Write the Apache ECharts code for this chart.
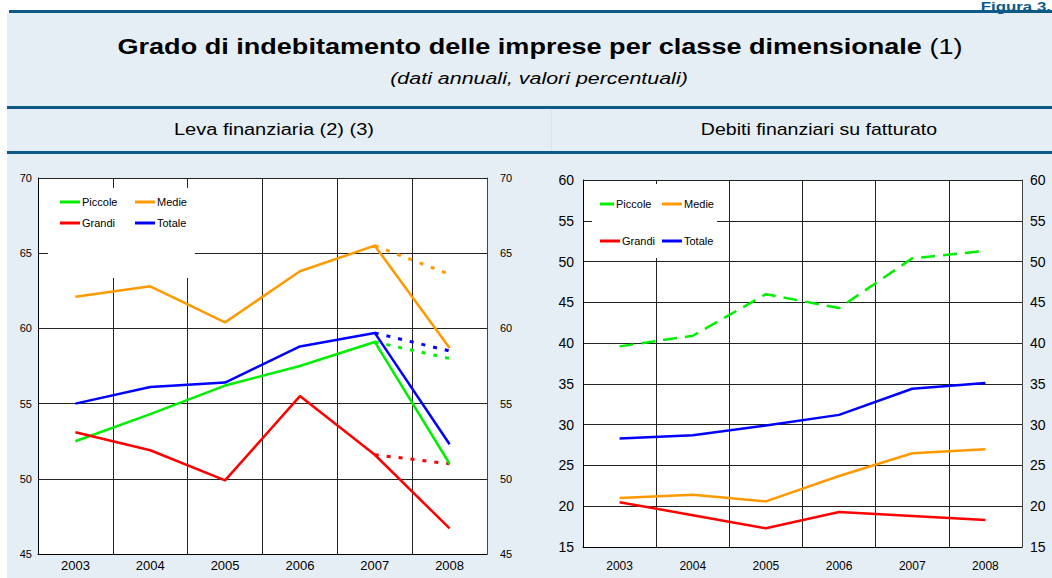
<!DOCTYPE html>
<html>
<head>
<meta charset="utf-8">
<script src="https://cdn.jsdelivr.net/npm/echarts@6/dist/echarts.min.js"></script>
<style>
html,body{margin:0;padding:0;background:#fff;}
#chart{width:1052px;height:578px;}
</style>
</head>
<body>
<div id="chart"></div>
<script>
// ---- data ----
const years = ['2003', '2004', '2005', '2006', '2007', '2008'];

// Leva finanziaria (left panel)
const levaPiccole = [52.5, 54.3, 56.2, 57.5, 59.1, 51.0];
const levaMedie   = [62.1, 62.8, 60.4, 63.8, 65.5, 58.7];
const levaGrandi  = [53.1, 51.9, 49.9, 55.5, 51.6, 46.7];
const levaTotale  = [55.0, 56.1, 56.4, 58.8, 59.7, 52.3];
// alternative 2008 values (dotted)
const levaPiccoleAlt = [null, null, null, null, 59.1, 58.0];
const levaMedieAlt   = [null, null, null, null, 65.5, 63.6];
const levaGrandiAlt  = [null, null, null, null, 51.6, 51.0];
const levaTotaleAlt  = [null, null, null, null, 59.7, 58.5];

// Debiti finanziari su fatturato (right panel)
const debPiccole = [39.6, 40.9, 46.0, 44.3, 50.4, 51.3];
const debMedie   = [21.0, 21.4, 20.6, 23.7, 26.5, 27.0];
const debGrandi  = [20.5, 18.9, 17.3, 19.3, 18.8, 18.3];
const debTotale  = [28.3, 28.7, 29.9, 31.2, 34.4, 35.1];

const leftTicks = [45, 50, 55, 60, 65, 70];
const rightTicks = [15, 20, 25, 30, 35, 40, 45, 50, 55, 60];

const colors = {Piccole: '#00ee00', Medie: '#ff9900', Grandi: '#ff0000', Totale: '#0000ff'};

// ---- styling ----
const NARROW = '"Liberation Sans Narrow", "Arial Narrow", "Liberation Sans", Arial, sans-serif';
const SANS = '"Liberation Sans", Arial, sans-serif';
const BLUE = '#0e5a87';
const BG = '#e6eef5';

const chart = echarts.init(document.getElementById('chart'), null, {renderer: 'svg'});

function yAxis(grid, ticks, pos, fontSize, margin, lineColor) {
  return {
    type: 'value', gridIndex: grid, position: pos,
    min: ticks[0], max: ticks[ticks.length - 1], interval: 5,
    axisLine: {show: true, lineStyle: {color: lineColor, width: 1}},
    axisTick: {show: false},
    axisLabel: {color: '#000', fontSize: fontSize, fontFamily: NARROW, margin: margin},
    splitLine: {show: pos === 'left', lineStyle: {color: '#222', width: 1}}
  };
}
function xAxis(grid, fontSize, margin) {
  return {
    type: 'category', gridIndex: grid, data: years, boundaryGap: true,
    axisLine: {show: true, lineStyle: {color: '#000', width: 1}},
    axisTick: {show: false},
    axisLabel: {color: '#000', fontSize: fontSize, fontFamily: NARROW, margin: margin, interval: 0},
    splitLine: {show: true, interval: 0, lineStyle: {color: '#222', width: 1}}
  };
}
function baseName(name) { return name.trim().split(' ')[0]; }
function line(name, data, xi, yi, dash, width) {
  const c = colors[baseName(name)];
  return {
    name: name, type: 'line', data: data, xAxisIndex: xi, yAxisIndex: yi,
    symbol: 'none', showSymbol: false, color: c,
    lineStyle: {width: width || 2.5, type: dash || 'solid', color: c},
    connectNulls: false, z: 3, silent: true
  };
}
function legendItem(name, left, cy, w) {
  return {
    data: [{name: name, icon: 'rect'}], left: left, top: cy - 7, padding: 0,
    itemWidth: w || 20, itemHeight: 3, itemGap: 0,
    itemStyle: {color: colors[baseName(name)], borderWidth: 0},
    selectedMode: false, z: 10,
    textStyle: {color: '#000', fontSize: 11, fontFamily: NARROW, lineHeight: 14, padding: [0, 0, 0, -3]}
  };
}
function headerText(text, x, y, font, sx, rich) {
  const style = {text: text, fill: '#000', font: font, align: 'center', verticalAlign: 'middle'};
  if (rich) style.rich = rich;
  return {type: 'text', z: 5, x: x, y: y, scaleX: sx, scaleY: 1, style: style};
}

const option = {
  animation: false,
  textStyle: {fontFamily: NARROW},
  graphic: [
    {type: 'rect', z: -10, shape: {x: 7, y: 13, width: 1045, height: 565}, style: {fill: BG}},
    {type: 'rect', z: -10, shape: {x: 9, y: 10, width: 1043, height: 3}, style: {fill: BLUE}},
    {type: 'rect', z: -10, shape: {x: 7, y: 106, width: 1045, height: 3}, style: {fill: BLUE}},
    {type: 'rect', z: -10, shape: {x: 7, y: 151, width: 1045, height: 3}, style: {fill: BLUE}},
    {type: 'rect', z: -10, shape: {x: 551, y: 109, width: 1, height: 42}, style: {fill: '#dbe4ec'}},
    {type: 'rect', z: -9, shape: {x: 38, y: 178, width: 449, height: 376}, style: {fill: '#fff'}},
    {type: 'rect', z: -9, shape: {x: 583, y: 180, width: 439, height: 367}, style: {fill: '#fff'}},
    // legend boxes (white, covering grid lines)
    {type: 'rect', z: 1, shape: {x: 48, y: 188, width: 147, height: 90}, style: {fill: '#fff'}},
    {type: 'rect', z: 1, shape: {x: 592, y: 184, width: 125, height: 74}, style: {fill: '#fff'}},
    {type: 'text', z: 5, x: 1051, y: 13, scaleX: 1.3, style: {text: 'Figura 3.', fill: BLUE, font: 'bold 13px ' + SANS, align: 'right', verticalAlign: 'bottom'}},
    headerText('{b|Grado di indebitamento delle imprese per classe dimensionale} {n|(1)}', 540, 46, 'bold 22px ' + SANS, 1.23,
      {b: {font: 'bold 22px ' + SANS, fill: '#000'}, n: {font: '22px ' + SANS, fill: '#000'}}),
    {type: 'text', z: 5, x: 539, y: 78, scaleX: 1.26, style: {text: '(dati annuali, valori percentuali)', fill: '#000', font: 'italic 17px ' + SANS, align: 'center', verticalAlign: 'middle'}},
    headerText('Leva finanziaria (2) (3)', 274, 130, '16px ' + SANS, 1.25),
    headerText('Debiti finanziari su fatturato', 819, 130, '16px ' + SANS, 1.22)
  ],
  grid: [
    {left: 38, top: 178, width: 449, height: 376, containLabel: false},
    {left: 583, top: 180, width: 439, height: 367, containLabel: false}
  ],
  xAxis: [xAxis(0, 13, 5), xAxis(1, 12, 13)],
  yAxis: [
    yAxis(0, leftTicks, 'left', 11, 6, '#000'),
    yAxis(0, leftTicks, 'right', 11, 13, '#444'),
    yAxis(1, rightTicks, 'left', 14, 9, '#000'),
    yAxis(1, rightTicks, 'right', 14, 8, '#444')
  ],
  legend: [
    legendItem('Piccole', 60, 202),
    legendItem('Medie', 135, 202),
    legendItem('Grandi', 60, 223),
    legendItem('Totale', 135, 223),
    legendItem('Piccole ', 600, 204, 14),
    legendItem('Medie ', 662, 204),
    legendItem('Grandi ', 600, 241),
    legendItem('Totale ', 662, 241)
  ],
  series: [
    line('Piccole alt', levaPiccoleAlt, 0, 0, [4, 8], 3),
    line('Totale alt', levaTotaleAlt, 0, 0, [4, 8], 3),
    line('Medie alt', levaMedieAlt, 0, 0, [4, 8], 3),
    line('Grandi alt', levaGrandiAlt, 0, 0, [4, 8], 3),
    line('Piccole', levaPiccole, 0, 0),
    line('Grandi', levaGrandi, 0, 0),
    line('Totale', levaTotale, 0, 0),
    line('Medie', levaMedie, 0, 0),
    line('Piccole ', debPiccole, 1, 2, [14, 8]),
    line('Medie ', debMedie, 1, 2),
    line('Grandi ', debGrandi, 1, 2),
    line('Totale ', debTotale, 1, 2)
  ]
};
chart.setOption(option);
</script>
</body>
</html>
